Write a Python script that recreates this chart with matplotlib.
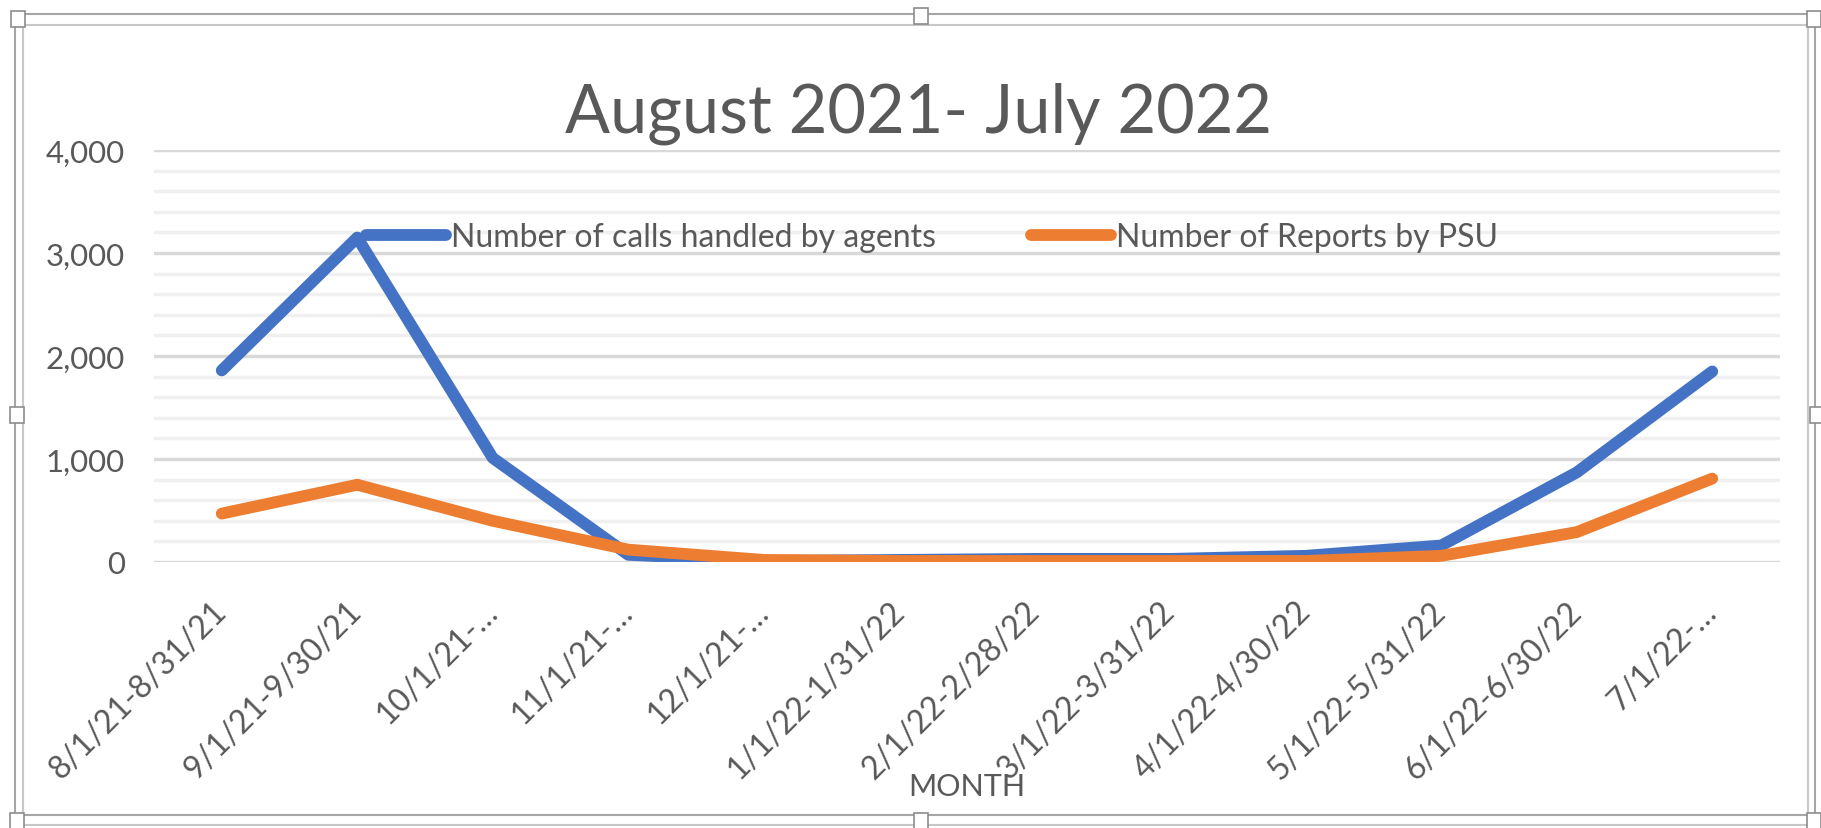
import matplotlib.pyplot as plt
from matplotlib.patches import Rectangle

plt.rcParams['font.family'] = ['Lato', 'DejaVu Sans']

TEXT = '#595959'
BLUE = '#4472C4'
ORANGE = '#ED7D31'

periods = ['8/1/21-8/31/21', '9/1/21-9/30/21', '10/1/21-…', '11/1/21-…',
           '12/1/21-…', '1/1/22-1/31/22', '2/1/22-2/28/22', '3/1/22-3/31/22',
           '4/1/22-4/30/22', '5/1/22-5/31/22', '6/1/22-6/30/22', '7/1/22-…']
calls = [1860, 3150, 1010, 70, 10, 20, 30, 30, 60, 160, 870, 1850]
reports = [470, 750, 400, 120, 20, 10, 10, 10, 10, 60, 290, 810]

W, H = 1821, 829
fig = plt.figure(figsize=(W / 100, H / 100), dpi=100)

def fx(px):
    return px / W

def fy(py):
    return 1 - py / H

ax = fig.add_axes([fx(154), fy(563), fx(1780) - fx(154), fy(151) - fy(563)])

x = list(range(len(periods)))
ax.plot(x, calls, color=BLUE, lw=8.5, solid_joinstyle='round', solid_capstyle='round',
        label='Number of calls handled by agents', zorder=3)
ax.plot(x, reports, color=ORANGE, lw=8.5, solid_joinstyle='round', solid_capstyle='round',
        label='Number of Reports by PSU', zorder=3)

ax.set_xlim(-0.5, len(periods) - 0.5)
ax.set_ylim(0, 4000)
ax.set_yticks(range(0, 4001, 1000))
ax.set_yticklabels([f'{v:,}' for v in range(0, 4001, 1000)])
ax.set_yticks(range(0, 4001, 200), minor=True)
ax.grid(axis='y', which='major', color='#d9d9d9', lw=2.5, zorder=1)
ax.grid(axis='y', which='minor', color='#f0f0f0', lw=2.5, zorder=0)
for s in ax.spines.values():
    s.set_visible(False)
ax.tick_params(axis='y', which='both', length=0, pad=21, labelsize=22.5, labelcolor=TEXT)

ax.set_xticks(x)
ax.set_xticklabels(periods, rotation=45, ha='right', va='center', rotation_mode='anchor')
ax.tick_params(axis='x', length=0, pad=32, labelsize=23, labelcolor=TEXT)

ax.set_xlabel('MONTH', fontsize=22, color=TEXT)
ax.xaxis.set_label_coords(0.5, -0.51)

ax.legend(loc='center', bbox_to_anchor=(fx(932), fy(238)), bbox_transform=fig.transFigure,
          ncol=2, frameon=False, fontsize=23, labelcolor=TEXT, handlelength=2.5,
          handletextpad=0.15, columnspacing=3.0)

fig.text(fx(918), fy(114), 'August 2021- July 2022', ha='center', va='center',
         fontsize=48, color=TEXT)

# selection frame around the chart object
fig.patches.append(Rectangle((fx(15), fy(816)), fx(1815) - fx(15), fy(15) - fy(816),
                             transform=fig.transFigure, fill=False, ec='#a6a6a6', lw=1.5))
fig.patches.append(Rectangle((fx(23), fy(826)), fx(1808) - fx(23), fy(26) - fy(826),
                             transform=fig.transFigure, fill=False, ec='#c8c8c8', lw=1.5))
for hx, hy in [(18, 20), (921, 17), (1814, 20), (17, 416), (1817, 416),
               (17, 822), (921, 822), (1814, 822)]:
    fig.patches.append(Rectangle((fx(hx - 7), fy(hy + 8)), fx(14), 16 / H,
                                 transform=fig.transFigure, fc='white', ec='#8c8c8c', lw=1.2,
                                 zorder=5))

fig.savefig('out.png', dpi=100)
